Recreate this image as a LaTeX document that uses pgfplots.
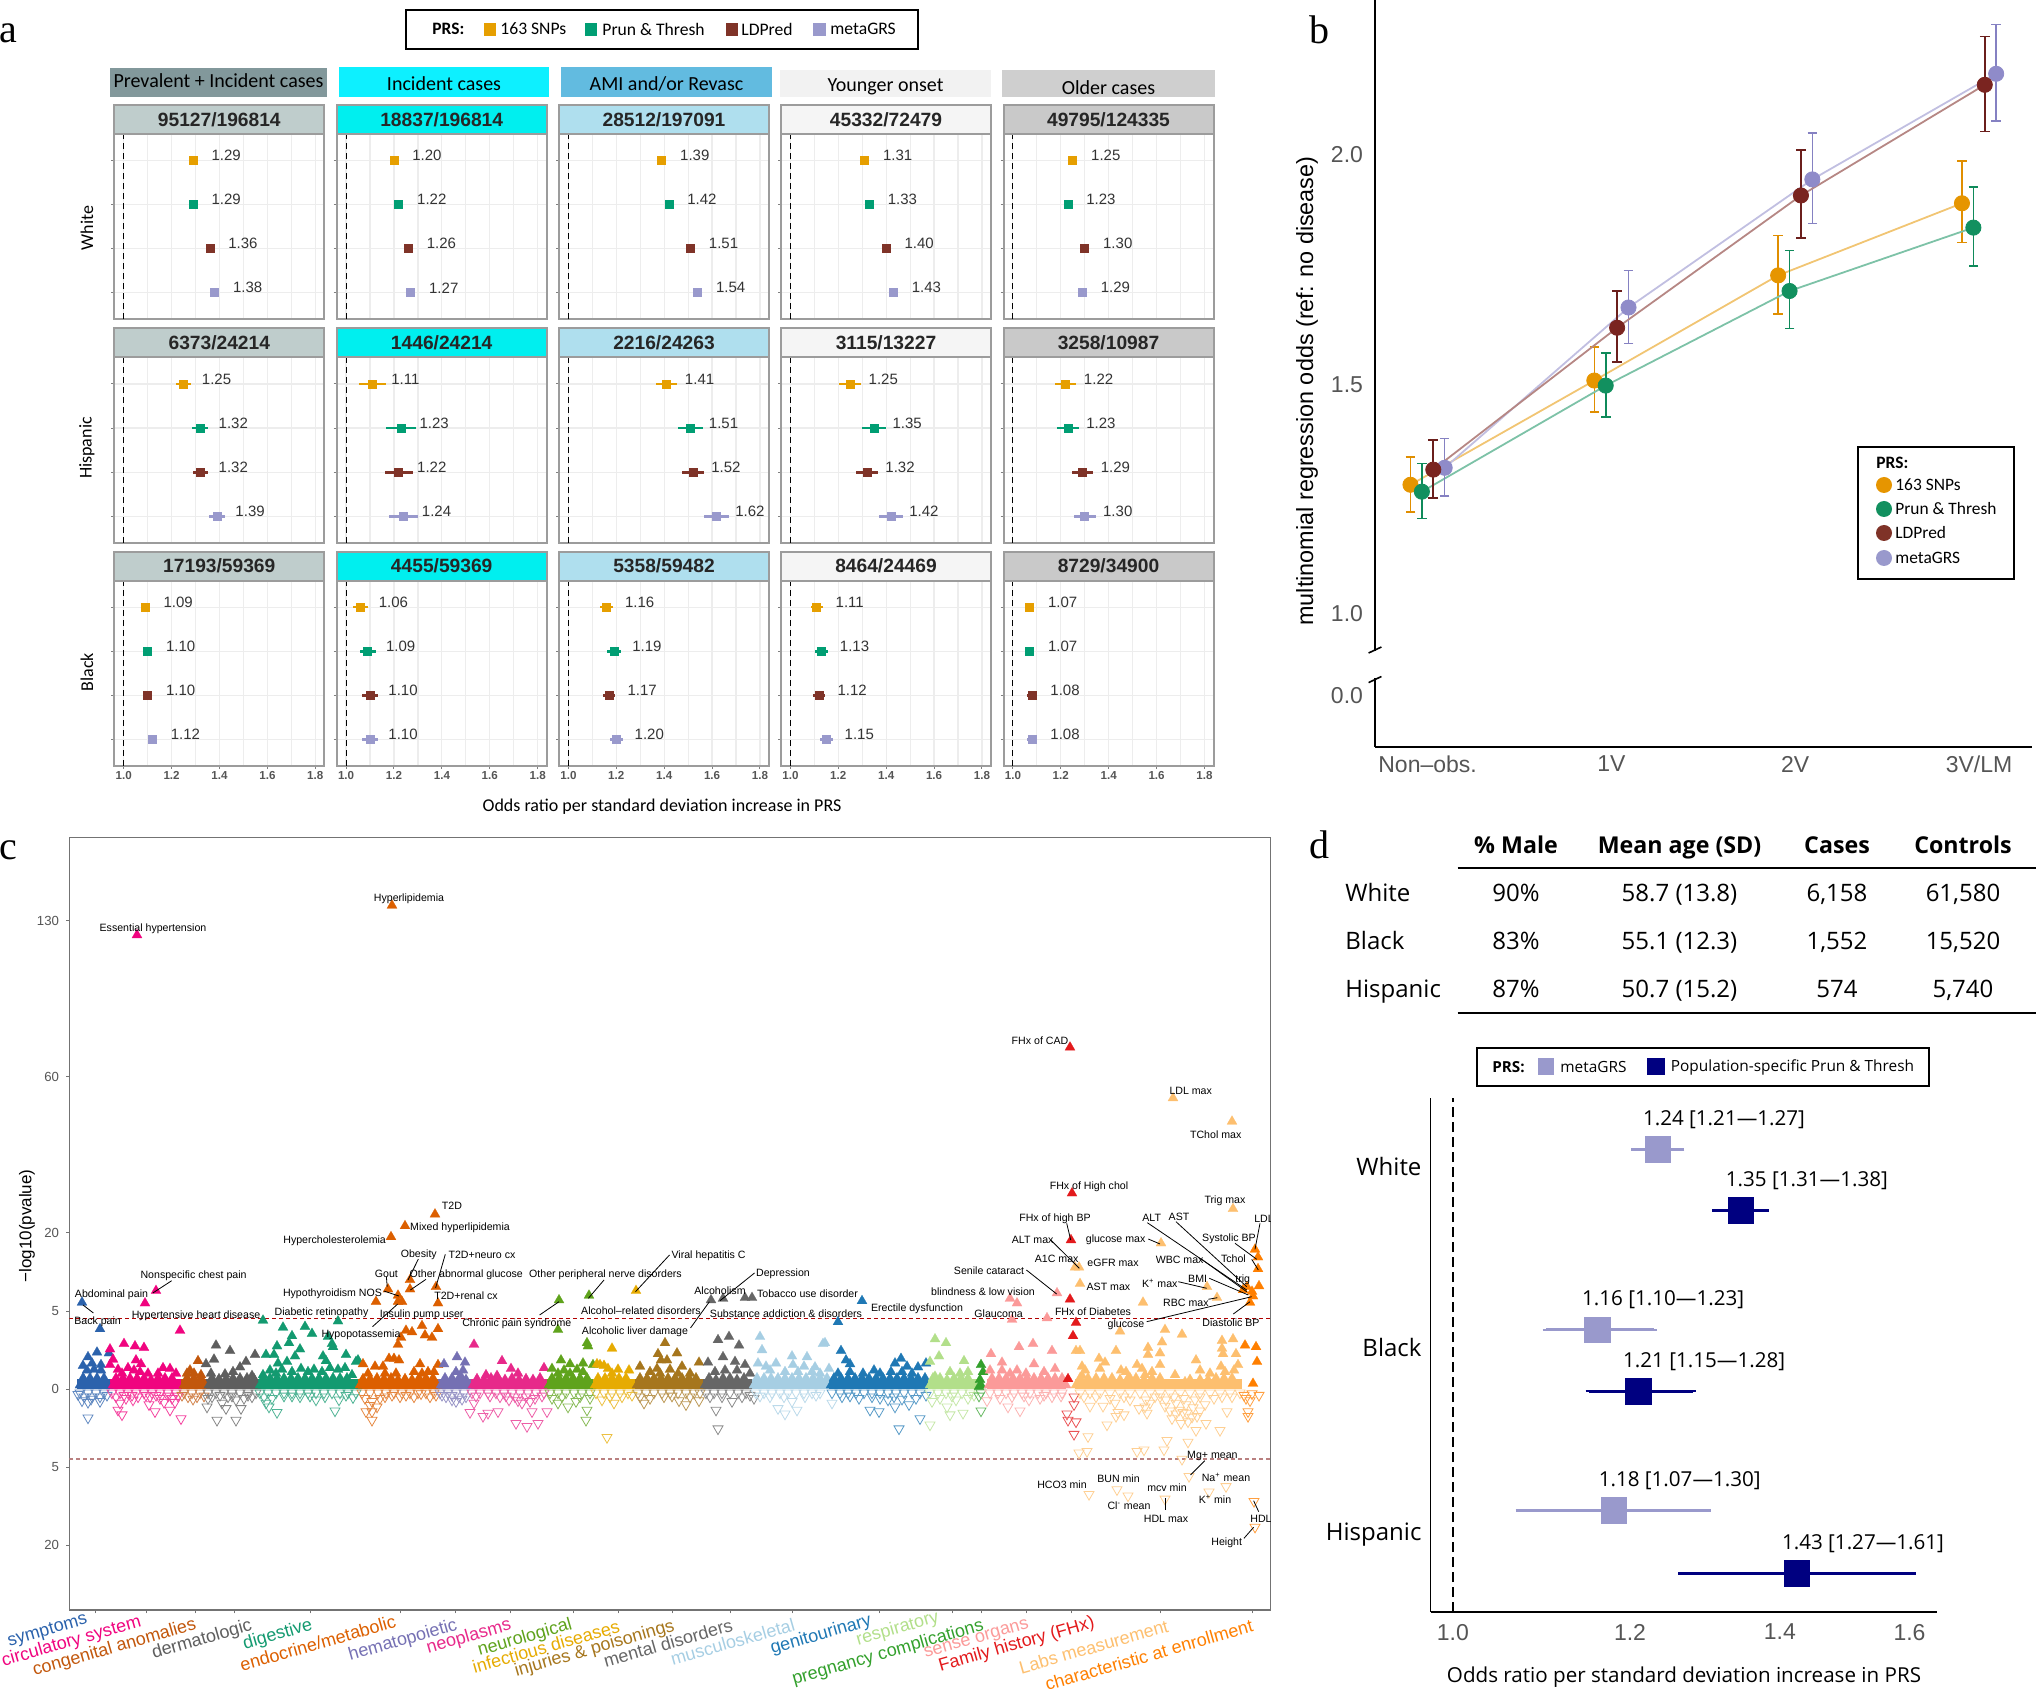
\documentclass[border=0pt]{standalone}
\usepackage{fontspec}
\setmainfont{Liberation Sans}
\newfontfamily\carl{Carlito}
\newfontfamily\opens{Open Sans}
\newfontfamily\seri{Liberation Serif}
\usepackage{xcolor}
\usepackage{pgfplots}
\pgfplotsset{compat=1.18}
\newcommand\fs[1]{\fontsize{#1pt}{#1pt}\selectfont}
\definecolor{prs4}{HTML}{E69F00}
\definecolor{prs3}{HTML}{009E73}
\definecolor{prs2}{HTML}{7F3328}
\definecolor{prs1}{HTML}{9999CC}
\definecolor{navyd}{HTML}{000080}
\definecolor{txt}{HTML}{333333}
\definecolor{tick}{HTML}{555555}
\definecolor{panelg}{HTML}{9C9C9C}
\definecolor{gridg}{HTML}{EDEDED}
\definecolor{sA}{HTML}{BFCDCC}\definecolor{sB}{HTML}{00EFEF}\definecolor{sC}{HTML}{AFDFEE}\definecolor{sD}{HTML}{F5F5F5}\definecolor{sE}{HTML}{C9C9C9}
\definecolor{hA}{HTML}{82989B}\definecolor{hB}{HTML}{0DF0FF}\definecolor{hC}{HTML}{62BBE0}\definecolor{hD}{HTML}{F2F2F2}\definecolor{hE}{HTML}{CFCFCF}
\definecolor{c01}{HTML}{2B62AC}\definecolor{c02}{HTML}{F0047F}\definecolor{c03}{HTML}{C2570C}\definecolor{c04}{HTML}{5E5E5E}
\definecolor{c05}{HTML}{139A70}\definecolor{c06}{HTML}{DC5F00}\definecolor{c07}{HTML}{7570B3}\definecolor{c08}{HTML}{E7298A}
\definecolor{c09}{HTML}{5FA31C}\definecolor{c10}{HTML}{E6AB02}\definecolor{c11}{HTML}{A6761D}\definecolor{c12}{HTML}{666666}
\definecolor{c13}{HTML}{A6CEE3}\definecolor{c14}{HTML}{1F78B4}\definecolor{c15}{HTML}{B2DF8A}\definecolor{c16}{HTML}{33A02C}
\definecolor{c17}{HTML}{FB9A99}\definecolor{c18}{HTML}{E31A1C}\definecolor{c19}{HTML}{FDBF6F}\definecolor{c20}{HTML}{FF7F00}

% panel a: one forest row
\newcommand\pt[3]{\addplot[prs#1, only marks, mark=square*, mark size=2pt,
  point meta=explicit symbolic, nodes near coords,
  nodes near coords style={anchor=center, xshift=16.5pt, yshift=2.5pt, text=txt, font=\fs{7.5}},
  error bars/.cd, x dir=both, x explicit, error mark=none, error bar style={prs#1, line width=1.3pt}]
  coordinates {(#2,#1) +- (#3,0) [#2]};}
\newcommand\four[8]{\pt{4}{#1}{#2}\pt{3}{#3}{#4}\pt{2}{#5}{#6}\pt{1}{#7}{#8}}
\newcommand\orpanel[6]{%
  \begin{axis}[scale only axis, width=105pt, height=92.65pt,
    at={({#1*0.5pt},{-(#2+185.3)*0.5pt})}, anchor=south west,
    xmin=0.9608, xmax=1.8376, ymin=0.4, ymax=4.6,
    xtick={1,1.2,1.4,1.6,1.8}, minor xtick={1.1,1.3,1.5,1.7}, ytick={1,2,3,4}, yticklabels={},
    xtick pos=bottom, ytick pos=left, tick align=outside,
    major tick length=1.5pt, minor tick length=0pt,
    xmajorgrids, xminorgrids, ymajorgrids, grid style={gridg, line width=.6pt},
    minor grid style={gridg, line width=.6pt},
    axis line style={panelg, line width=1pt}, tick style={tick, line width=.5pt},
    xticklabel style={font=\bfseries\fs{5.8}, text=tick, inner sep=1pt}, #5]
    \addplot[black, line width=.55pt, dash pattern=on 3pt off 2pt] coordinates {(1,0.4) (1,4.6)};
    #6
  \end{axis}
  \begin{scope}[x=.5pt,y=-.5pt]
    \draw[panelg, fill=#3, line width=1pt] (#1,#2-29) rectangle ++(210,29);
    \node[font=\bfseries\fs{9.6}, text=black!85] at (#1+105,#2-14.5) {#4};
  \end{scope}}
\newcommand\rowtop{xticklabels={}, x tick style={draw=none}}
\newcommand\rowbot{xticklabels={1.0,1.2,1.4,1.6,1.8}}

% panel c marks
\newcommand\up[2]{\addplot[only marks, mark=triangle*, mark size=2.9pt, color=#1, mark options={fill=#1, draw=#1, line width=.1pt}] coordinates {#2};}
\newcommand\dn[2]{\addplot[only marks, mark=triangle, mark size=2.9pt, color=#1!75, mark options={rotate=180, draw=#1!75, line width=.4pt}] coordinates {#2};}
\newcommand\band[3]{\addplot[draw=none, fill=#1] coordinates {(#2,0) (#2,.13) (#3,.13) (#3,0)} --cycle;}

% panel b series: position, odds, CI up, CI down
\pgfplotstableread{
x y p m
-0.093 1.281 .061 .059
0.907 1.508 .073 .068
1.907 1.737 .087 .084
2.907 1.894 .092 .085
}\tabsnp
\pgfplotstableread{
x y p m
-0.031 1.266 .061 .058
0.969 1.497 .071 .068
1.969 1.703 .088 .082
2.969 1.841 .089 .083
}\tabprun
\pgfplotstableread{
x y p m
0.031 1.314 .064 .062
1.031 1.623 .080 .075
2.031 1.911 .099 .093
3.031 2.152 .105 .102
}\tabld
\pgfplotstableread{
x y p m
0.093 1.318 .064 .061
1.093 1.667 .081 .078
2.093 1.946 .101 .096
3.093 2.176 .107 .103
}\tabmeta
\newcommand\bser[3]{%
  \addplot[#2!55!white, line width=.9pt, forget plot] table[x=x,y=y] {#1};
  \addplot[only marks, mark=*, mark size=3.8pt, color=#3, mark options={fill=#2, draw=#2},
    error bars/.cd, y dir=both, y explicit,
    error bar style={#3, line width=.8pt}, error mark options={rotate=90, #3, mark size=2.4pt, line width=.8pt}]
    table[x=x,y=y,y error plus=p,y error minus=m] {#1};}
\definecolor{bO}{HTML}{E69500}\definecolor{bOd}{HTML}{E08E00}
\definecolor{bG}{HTML}{12905F}\definecolor{bGd}{HTML}{0F8A5A}
\definecolor{bR}{HTML}{7A2420}\definecolor{bRd}{HTML}{6B1F1C}
\definecolor{bP}{HTML}{8F8BC9}\definecolor{bPd}{HTML}{8581C2}

% panel d rows
\newcommand\drow[6]{\addplot[only marks, mark=square*, mark size=6.4pt, color=#1, mark options={fill=#1, draw=#1},
  point meta=explicit symbolic, nodes near coords,
  nodes near coords style={anchor=center, xshift=33pt, yshift=15pt, text=black, font=\opens\fs{10.3}},
  error bars/.cd, x dir=both, x explicit, error bar style={#1, line width=1.5pt},
  error mark options={#1, line width=1.2pt, mark size=1.5pt}]
  coordinates {(#2,#3) += (#4,0) -= (#5,0) [{#6}]};}

\begin{document}
\begin{tikzpicture}
\useasboundingbox (0,0) rectangle (1018pt,-844.5pt);

% ---------- a ----------
\orpanel{114.3}{134}{sA}{95127/196814}{\rowtop}{\four{1.29}{.005}{1.29}{.005}{1.36}{.006}{1.38}{.006}}
\orpanel{336.7}{134}{sB}{18837/196814}{\rowtop}{\four{1.20}{.01}{1.22}{.01}{1.26}{.012}{1.27}{.012}}
\orpanel{559}{134}{sC}{28512/197091}{\rowtop}{\four{1.39}{.01}{1.42}{.01}{1.51}{.01}{1.54}{.01}}
\orpanel{781}{134}{sD}{45332/72479}{\rowtop}{\four{1.31}{.01}{1.33}{.01}{1.40}{.01}{1.43}{.01}}
\orpanel{1003.5}{134}{sE}{49795/124335}{\rowtop}{\four{1.25}{.01}{1.23}{.01}{1.30}{.01}{1.29}{.01}}
\orpanel{114.3}{357.5}{sA}{6373/24214}{\rowtop}{\four{1.25}{.03}{1.32}{.033}{1.32}{.03}{1.39}{.034}}
\orpanel{336.7}{357.5}{sB}{1446/24214}{\rowtop}{\four{1.11}{.057}{1.23}{.063}{1.22}{.058}{1.24}{.06}}
\orpanel{559}{357.5}{sC}{2216/24263}{\rowtop}{\four{1.41}{.045}{1.51}{.052}{1.52}{.047}{1.62}{.052}}
\orpanel{781}{357.5}{sD}{3115/13227}{\rowtop}{\four{1.25}{.045}{1.35}{.05}{1.32}{.045}{1.42}{.05}}
\orpanel{1003.5}{357.5}{sE}{3258/10987}{\rowtop}{\four{1.22}{.043}{1.23}{.046}{1.29}{.043}{1.30}{.046}}
\orpanel{114.3}{580.7}{sA}{17193/59369}{\rowbot}{\four{1.09}{.015}{1.10}{.016}{1.10}{.015}{1.12}{.017}}
\orpanel{336.7}{580.7}{sB}{4455/59369}{\rowbot}{\four{1.06}{.03}{1.09}{.033}{1.10}{.032}{1.10}{.033}}
\orpanel{559}{580.7}{sC}{5358/59482}{\rowbot}{\four{1.16}{.028}{1.19}{.028}{1.17}{.026}{1.20}{.028}}
\orpanel{781}{580.7}{sD}{8464/24469}{\rowbot}{\four{1.11}{.025}{1.13}{.027}{1.12}{.025}{1.15}{.027}}
\orpanel{1003.5}{580.7}{sE}{8729/34900}{\rowbot}{\four{1.07}{.02}{1.07}{.02}{1.08}{.02}{1.08}{.02}}

% ---------- c ----------
\begin{axis}[scale only axis, width=600.55pt, height=386.25pt,
  at={(34.7pt,-805pt)}, anchor=south west,
  xmin=69.4, xmax=1270.5, ymin=-2.833, ymax=7.07,
  xtick={95.1,146.5,195.3,234,310.6,400.7,455.8,510.1,573.7,618.3,672.8,730.5,792.8,879.9,952.7,981.8,1026.8,1071.4,1160.2,1252.4},
  xticklabels={}, ytick={-2,-1,0,1,2,4,6}, yticklabels={20,5,0,5,20,60,130},
  tick align=outside, xtick pos=bottom, ytick pos=left, major tick length=1.7pt,
  axis line style={black!55, line width=.7pt}, tick style={black!55, line width=.5pt},
  yticklabel style={font=\fs{6.6}, text=tick}]
\addplot[red!70!black, line width=.6pt, dash pattern=on 2pt off 1.5pt] coordinates {(69.4,.906) (1270.5,.906)};
\addplot[red!45!black!50!white, line width=.7pt, dash pattern=on 2pt off 1.5pt] coordinates {(69.4,-.897) (1270.5,-.897)};
% open triangles, negative direction
\dn{c01}{(80,-.05)(88,-.05)(96,-.05)(104,-.05)(84,-.1)(92,-.1)(100,-.1)(82,-.15)(88,-.17)(100,-.16)(88,-.37)(91,-.13)(78,-.07)(107,-.08)}
\dn{c02}{(112,-.05)(120,-.05)(128,-.05)(136,-.05)(144,-.05)(152,-.05)(160,-.05)(168,-.05)(176,-.05)(116,-.1)(126,-.12)(138,-.1)(150,-.1)(160,-.12)(172,-.12)(118,-.27)(122,-.33)(120,-.18)(155,-.29)(149,-.2)(170,-.27)(181,-.38)(133,-.14)(164,-.17)(175,-.17)(124,-.08)(132,-.08)(146,-.08)(156,-.08)(168,-.09)(178,-.09)}
\dn{c03}{(184,-.05)(192,-.05)(200,-.05)(188,-.1)(197,-.1)(204,-.09)(182,-.08)(193,-.13)}
\dn{c04}{(208,-.05)(216,-.05)(224,-.05)(232,-.05)(240,-.05)(248,-.05)(256,-.05)(212,-.1)(228,-.1)(244,-.12)(252,-.1)(207,-.23)(217,-.4)(236,-.4)(222,-.18)(226,-.25)(241,-.25)(208,-.12)(236,-.14)(220,-.08)(232,-.09)(248,-.08)}
\dn{c05}{(260,-.05)(268,-.05)(276,-.05)(284,-.05)(292,-.05)(300,-.05)(308,-.05)(316,-.05)(324,-.05)(332,-.05)(340,-.05)(348,-.05)(356,-.05)(266,-.18)(269,-.23)(277,-.3)(335,-.28)(316,-.14)(339,-.14)(292,-.09)(353,-.11)(272,-.12)(300,-.1)(325,-.1)(264,-.1)(284,-.09)(310,-.09)(346,-.08)}
\dn{c06}{(362,-.05)(370,-.05)(378,-.05)(386,-.05)(394,-.05)(402,-.05)(410,-.05)(418,-.05)(426,-.05)(434,-.05)(372,-.4)(366,-.29)(372,-.29)(377,-.23)(372,-.16)(365,-.12)(380,-.12)(406,-.08)(421,-.06)(400,-.1)(414,-.1)(430,-.1)(385,-.1)(370,-.21)(392,-.08)(436,-.08)}
\dn{c07}{(440,-.05)(448,-.05)(456,-.05)(464,-.05)(452,-.14)(446,-.1)(459,-.1)(466,-.1)(452,-.08)(442,-.08)(462,-.13)(456,-.16)}
\dn{c08}{(472,-.05)(480,-.05)(488,-.05)(496,-.05)(504,-.05)(512,-.05)(520,-.05)(528,-.05)(536,-.05)(544,-.05)(470,-.3)(483,-.35)(488,-.31)(498,-.29)(516,-.44)(527,-.48)(538,-.44)(532,-.29)(547,-.29)(522,-.18)(509,-.14)(474,-.18)(500,-.1)(515,-.1)(535,-.12)(476,-.09)(490,-.09)(506,-.09)(526,-.1)(542,-.09)(518,-.15)(530,-.16)}
\dn{c09}{(550,-.05)(558,-.05)(566,-.05)(574,-.05)(582,-.05)(590,-.05)(586,-.4)(587,-.27)(558,-.18)(568,-.23)(576,-.16)(552,-.12)(590,-.12)(562,-.1)(580,-.1)}
\dn{c10}{(596,-.05)(604,-.05)(612,-.05)(620,-.05)(628,-.05)(607,-.62)(614,-.18)(602,-.14)(622,-.1)(610,-.1)(632,-.08)}
\dn{c11}{(638,-.05)(646,-.05)(654,-.05)(662,-.05)(670,-.05)(678,-.05)(686,-.05)(694,-.05)(700,-.05)(686,-.2)(699,-.15)(679,-.15)(644,-.18)(650,-.12)(664,-.1)(690,-.1)(640,-.1)(672,-.09)}
\dn{c12}{(706,-.05)(714,-.05)(722,-.05)(730,-.05)(738,-.05)(746,-.05)(716,-.27)(718,-.51)(732,-.16)(754,-.12)(710,-.1)(722,-.1)(742,-.1)(750,-.08)}
\dn{c13}{(756,-.05)(764,-.05)(772,-.05)(780,-.05)(788,-.05)(796,-.05)(804,-.05)(812,-.05)(820,-.05)(785,-.32)(778,-.25)(797,-.27)(792,-.16)(832,-.18)(770,-.1)(805,-.1)(760,-.09)(784,-.1)(816,-.08)}
\dn{c14}{(832,-.05)(840,-.05)(848,-.05)(856,-.05)(864,-.05)(872,-.05)(880,-.05)(888,-.05)(896,-.05)(904,-.05)(912,-.05)(920,-.05)(870,-.27)(879,-.29)(920,-.38)(899,-.51)(895,-.23)(909,-.2)(859,-.12)(842,-.1)(888,-.14)(902,-.13)(916,-.12)(850,-.09)(872,-.1)(880,-.12)(894,-.1)(926,-.08)}
\dn{c15}{(930,-.05)(938,-.05)(946,-.05)(954,-.05)(962,-.05)(970,-.05)(930,-.46)(950,-.33)(963,-.31)(947,-.23)(932,-.16)(956,-.14)(968,-.12)(940,-.12)(952,-.09)(974,-.08)}
\dn{c16}{(981,-.28)(981,-.05)(979,-.09)}
\dn{c17}{(990,-.05)(998,-.05)(1006,-.05)(1014,-.05)(1022,-.05)(1030,-.05)(1038,-.05)(1046,-.05)(1054,-.05)(1062,-.05)(1020,-.28)(1008,-.23)(987,-.15)(1029,-.14)(1061,-.09)(1044,-.08)(1000,-.12)(1040,-.12)(1012,-.1)(1024,-.09)(1052,-.1)}
\dn{c18}{(1074,-.1)(1074,-.2)(1067,-.32)(1068,-.4)(1076,-.42)(1074,-.58)}
\dn{c19}{(1080,-.05)(1090,-.05)(1100,-.05)(1110,-.05)(1120,-.05)(1130,-.05)(1140,-.05)(1150,-.05)(1160,-.05)(1170,-.05)(1180,-.05)(1190,-.05)(1200,-.05)(1210,-.05)(1220,-.05)(1230,-.05)(1240,-.05)(1088,-.61)(1079,-.82)(1087,-.8)(1137,-.8)(1144,-.78)(1164,-.78)(1167,-.66)(1188,-.68)(1182,-.9)(1189,-1.12)(1089,-1.35)(1117,-1.29)(1128,-1.37)(1165,-1.41)(1209,-1.32)(1226,-1.25)(1220,-.53)(1107,-.46)(1116,-.35)(1124,-.33)(1090,-.22)(1103,-.22)(1139,-.25)(1147,-.31)(1172,-.38)(1181,-.44)(1196,-.53)(1206,-.44)(1187,-.31)(1197,-.35)(1227,-.29)(1179,-.27)(1166,-.14)(1176,-.18)(1186,-.2)(1115,-.18)(1130,-.14)(1155,-.1)(1195,-.14)(1205,-.2)(1214,-.12)(1188,-.42)(1170,-.28)(1193,-.24)(1145,-.23)(1118,-.3)(1084,-.1)(1096,-.1)(1110,-.12)(1124,-.1)(1146,-.14)(1160,-.1)(1174,-.1)(1184,-.12)(1200,-.1)(1222,-.1)(1232,-.1)(1192,-.36)(1183,-.3)(1176,-.32)(1200,-.28)(1165,-.22)(1150,-.18)}
\dn{c20}{(1254,-1.44)(1255,-1.77)(1248,-.29)(1248,-.35)(1259,-.08)(1250,-.15)(1244,-.08)(1252,-.06)(1246,-.12)}
% solid base of each group
\band{c01}{77}{110}\band{c02}{110}{181}\band{c03}{181}{206}\band{c04}{206}{258}\band{c05}{258}{358}
\band{c06}{358}{438}\band{c07}{438}{471}\band{c08}{471}{547}\band{c09}{547}{593}\band{c10}{593}{635}
\band{c11}{635}{703}\band{c12}{703}{752}\band{c13}{752}{829}\band{c14}{829}{928}\band{c15}{928}{977}
\band{c17}{987}{1066}\band{c19}{1075}{1242}
% filled triangles, positive direction
\up{c01}{(80,.05)(87,.05)(94,.05)(101,.05)(108,.05)(83,.14)(90,.14)(97,.14)(104,.14)(87,.24)(94,.25)(101,.24)(82,1.11)(100,.77)(88,.41)(97,.47)(109,.46)(83,.3)(101,.31)(92,.33)(84,.12)}
\up{c02}{(113,.05)(120,.05)(127,.05)(134,.05)(141,.05)(148,.05)(155,.05)(162,.05)(169,.05)(176,.05)(116,.14)(123,.14)(130,.14)(137,.14)(144,.14)(151,.12)(158,.14)(165,.14)(172,.14)(118,.25)(128,.27)(134,.24)(140,.22)(163,.27)(170,.26)(156,1.26)(145,1.1)(180,.75)(124,.58)(135,.55)(144,.53)(110,.51)(136,.37)(141,.32)(110,.31)(137,5.82)(113,.38)(148,.2)(122,.2)(158,.2)(176,.2)}
\up{c03}{(184,.05)(191,.05)(198,.05)(205,.05)(187,.14)(194,.14)(201,.14)(190,.24)(198,.36)(187,.2)(194,.2)(201,.18)}
\up{c04}{(209,.05)(216,.05)(223,.05)(230,.05)(237,.05)(244,.05)(251,.05)(256,.05)(212,.14)(219,.13)(226,.13)(233,.14)(240,.14)(247,.14)(254,.13)(216,.56)(230,.49)(214,.38)(206,.32)(255,.44)(246,.35)(240,.28)(233,.22)(225,.19)(211,.2)(252,.17)}
\up{c05}{(260,.05)(267,.05)(274,.05)(281,.05)(288,.05)(295,.05)(302,.05)(309,.05)(316,.05)(323,.05)(330,.05)(337,.05)(344,.05)(351,.05)(357,.05)(263,.14)(270,.14)(277,.14)(284,.14)(291,.14)(298,.14)(305,.14)(312,.14)(319,.14)(326,.14)(333,.14)(340,.14)(347,.14)(263,.88)(338,.87)(283,.79)(305,.8)(312,.71)(292,.68)(289,.59)(328,.67)(333,.54)(332,.58)(277,.55)(300,.51)(266,.44)(274,.44)(295,.42)(323,.42)(346,.44)(358,.37)(356,.35)(287,.35)(326,.36)(278,.33)(270,.24)(282,.25)(301,.26)(314,.25)(330,.27)(338,.25)(345,.27)(292,.22)(308,.22)(322,.22)(352,.18)(276,.2)(263,.18)}
\up{c06}{(360,.05)(367,.05)(374,.05)(381,.05)(388,.05)(395,.05)(402,.05)(409,.05)(416,.05)(423,.05)(430,.05)(437,.05)(363,.13)(370,.13)(377,.14)(384,.13)(391,.14)(398,.12)(405,.13)(412,.12)(419,.14)(426,.14)(433,.14)(435,2.24)(405,2.09)(391,1.95)(392,6.2)(388,1.28)(410,1.4)(410,1.28)(436,1.31)(438,1.1)(376,1.12)(398,1.2)(402,1.12)(398,1.12)(406,.75)(412,.73)(422,.81)(425,.69)(432,.66)(438,.77)(401,.66)(398,.57)(389,.39)(399,.37)(394,.39)(363,.32)(375,.29)(383,.29)(420,.32)(414,.22)(438,.31)(368,.2)(396,.2)(428,.22)(385,.2)(422,.2)(434,.22)}
\up{c07}{(441,.05)(448,.05)(455,.05)(462,.05)(469,.05)(445,.14)(452,.14)(459,.14)(466,.12)(444,.32)(457,.41)(465,.34)(463,.24)(461,.16)(456,.22)}
\up{c08}{(473,.05)(480,.05)(487,.05)(494,.05)(501,.05)(508,.05)(515,.05)(522,.05)(529,.05)(536,.05)(543,.05)(477,.13)(484,.12)(491,.14)(498,.14)(505,.12)(512,.14)(519,.12)(526,.13)(533,.12)(540,.12)(474,.57)(502,.36)(511,.26)(544,.27)(486,.18)(497,.17)(518,.2)(540,.14)}
\up{c09}{(549,.05)(556,.05)(563,.05)(570,.05)(577,.05)(584,.05)(591,.05)(552,.14)(559,.14)(566,.14)(573,.14)(580,.14)(587,.14)(559,1.14)(558,.76)(589,1.2)(587,.59)(588,.55)(561,.37)(570,.32)(583,.33)(593,.31)(552,.26)(564,.24)(583,.22)(577,.25)(558,.2)(570,.2)}
\up{c10}{(595,.05)(602,.05)(609,.05)(616,.05)(623,.05)(630,.05)(598,.14)(605,.14)(612,.14)(619,.14)(626,.14)(636,1.26)(612,.52)(600,.31)(608,.26)(618,.25)(629,.24)(604,.3)(597,.32)(612,.2)}
\up{c11}{(637,.05)(644,.05)(651,.05)(658,.05)(665,.05)(672,.05)(679,.05)(686,.05)(693,.05)(700,.05)(640,.14)(647,.14)(654,.14)(661,.14)(668,.14)(675,.14)(682,.14)(689,.14)(696,.14)(665,.59)(658,.45)(677,.46)(667,.37)(661,.37)(657,.26)(682,.29)(699,.34)(640,.29)(650,.22)(670,.25)(690,.2)(660,.2)(678,.2)}
\up{c12}{(705,.05)(712,.05)(719,.05)(726,.05)(733,.05)(740,.05)(747,.05)(709,.14)(716,.12)(723,.14)(730,.14)(737,.12)(744,.14)(711,1.14)(723,1.16)(745,1.17)(752,1.17)(718,.63)(729,.67)(739,.56)(723,.41)(708,.34)(735,.35)(745,.31)(715,.22)(725,.24)(737,.24)(750,.2)}
\up{c13}{(754,.05)(761,.05)(768,.05)(775,.05)(782,.05)(789,.05)(796,.05)(803,.05)(810,.05)(817,.05)(824,.05)(757,.14)(764,.14)(771,.14)(778,.14)(785,.14)(792,.14)(799,.14)(806,.14)(813,.14)(820,.14)(827,.14)(760,.67)(762,.5)(825,.59)(823,.58)(792,.42)(807,.41)(758,.33)(776,.33)(815,.28)(829,.26)(793,.31)(766,.29)(804,.29)(785,.22)(770,.24)(812,.22)(798,.22)(820,.2)}
\up{c14}{(831,.05)(838,.05)(845,.05)(852,.05)(859,.05)(866,.05)(873,.05)(880,.05)(887,.05)(894,.05)(901,.05)(908,.05)(915,.05)(922,.05)(834,.14)(841,.14)(848,.14)(855,.14)(862,.14)(869,.14)(876,.14)(883,.14)(890,.14)(897,.14)(904,.14)(911,.14)(918,.14)(925,.14)(838,.86)(862,1.13)(841,.49)(846,.37)(850,.32)(901,.39)(895,.33)(907,.29)(918,.28)(926,.33)(874,.24)(891,.22)(850,.22)(863,.2)(838,.2)(880,.2)(902,.22)(912,.2)}
\up{c15}{(930,.05)(937,.05)(944,.05)(951,.05)(958,.05)(965,.05)(972,.05)(933,.14)(940,.14)(947,.12)(954,.14)(961,.14)(968,.14)(935,.64)(946,.59)(939,.42)(964,.36)(930,.35)(960,.2)(935,.16)(950,.22)(968,.22)}
\up{c16}{(981,.31)(983,.22)(981,.05)(979,.03)(980,.12)}
\up{c17}{(989,.05)(996,.05)(1003,.05)(1010,.05)(1017,.05)(1024,.05)(1031,.05)(1038,.05)(1045,.05)(1052,.05)(1059,.05)(1066,.05)(992,.14)(999,.14)(1006,.14)(1013,.14)(1020,.14)(1027,.14)(1034,.14)(1041,.14)(1048,.14)(1055,.14)(1062,.14)(1010,1.16)(1017,1.1)(1057,1.23)(1047,.91)(1012,.89)(991,.45)(1019,.54)(1033,.58)(1052,.49)(1002,.34)(1034,.32)(1055,.26)(1017,.24)(990,.24)(1002,.24)(1044,.22)(1026,.2)(1010,.2)}
\up{c18}{(1070,4.38)(1072,2.51)(1071,1.91)(1070,1.15)(1076,.85)(1073,.68)(1068,.13)}
\up{c19}{(1076,.05)(1084,.05)(1092,.05)(1100,.05)(1108,.05)(1116,.05)(1124,.05)(1132,.05)(1140,.05)(1148,.05)(1156,.05)(1164,.05)(1172,.05)(1180,.05)(1188,.05)(1196,.05)(1204,.05)(1212,.05)(1220,.05)(1228,.05)(1236,.05)(1080,.14)(1088,.14)(1096,.14)(1104,.14)(1112,.14)(1120,.12)(1128,.14)(1136,.14)(1144,.12)(1152,.14)(1160,.14)(1190,.12)(1200,.12)(1208,.12)(1216,.14)(1224,.14)(1232,.14)(1173,3.73)(1232,3.43)(1233,2.31)(1161,1.87)(1079,1.56)(1075,1.56)(1080,1.35)(1143,1.11)(1207,1.31)(1217,1.17)(1165,.76)(1182,.7)(1120,.74)(1162,.6)(1116,.49)(1080,.49)(1076,.49)(1148,.53)(1222,.62)(1233,.64)(1222,.52)(1223,.45)(1236,.45)(1160,.46)(1148,.44)(1196,.37)(1099,.39)(1105,.34)(1082,.29)(1137,.31)(1121,.24)(1160,.31)(1221,.29)(1238,.31)(1200,.24)(1175,.18)(1145,.18)(1082,.17)(1130,.14)(1085,.24)(1185,.09)(1126,.22)(1225,.22)(1234,.24)(1142,.26)(1100,.26)(1152,.22)(1210,.2)}
\up{c20}{(1255,1.79)(1258,1.69)(1258,1.54)(1259,1.32)(1247,1.31)(1253,1.19)(1250,1.11)(1243,1.27)(1245,.56)(1256,.54)(1257,.35)(1253,.07)(1252,1.25)}
\end{axis}
\begin{scope}[x=.5pt,y=-.5pt]
\begin{scope}
\clip (69,838) rectangle (1270,1610);
\foreach \x/\y/\t in {153/927/Essential hypertension,409/897/Hyperlipidemia,452/1204/T2D,460/1226/Mixed hyperlipidemia,334.6/1239/Hypercholesterolemia,
 418.8/1253/Obesity,482/1253/T2D+neuro cx,386.4/1272/Gout,466.3/1273/Other abnormal glucose,605.5/1273/Other peripheral nerve disorders,193.6/1274/Nonspecific chest pain,
 111.5/1293/Abdominal pain,332.5/1292/Hypothyroidism NOS,466/1294/T2D+renal cx,97.6/1320/Back pain,196/1314/Hypertensive heart disease,321.5/1311/Diabetic retinopathy,
 421.7/1313/Insulin pump user,516.8/1322/Chronic pain syndrome,361/1333/Hypopotassemia,641/1309/Alcohol--related disorders,635/1330/Alcoholic liver damage,708.6/1254/Viral hepatitis C,
 783/1272/Depression,720/1289/Alcoholism,807.5/1292/Tobacco use disorder,786/1311.7/Substance addiction \& disorders,917/1307/Erectile dysfunction,998.6/1311.7/Glaucoma,
 983/1290/blindness \& low vision,989/1269/Senile cataract,1093/1310/FHx of Diabetes,1032.7/1238/ALT max,1056.7/1257/A1C max,1115.6/1238/glucose max,1113/1261.7/eGFR max,
 1108.4/1285/AST max,1159.8/1281.7/K\textsuperscript{+} max,1179.6/1258/WBC max,1197.6/1277.7/BMI,1185.9/1301/RBC max,1126/1323/glucose,1231/1320.7/Diastolic BP,1229/1236.7/Systolic BP,
 1233.4/1257/Tchol,1242.7/1277.7/trig,1040/1038.7/FHx of CAD,1190.7/1089/LDL max,1215.7/1132.7/TChol max,1089/1184.7/FHx of High chol,1225/1198.7/Trig max,1055/1217/FHx of high BP,
 1151.7/1216.7/ALT,1179/1215/AST,1264/1217/LDL,1261/1517.7/HDL,1226.7/1540.7/Height,1212.4/1454.7/Mg+ mean,1226/1476/Na\textsuperscript{+} mean,1062/1483/HCO3 min,1118.5/1477/BUN min,
 1167/1486/mcv min,1215/1498/K\textsuperscript{+} min,1129/1504/Cl\textsuperscript{-} mean,1166/1517/HDL max}
  \node[font=\fs{5.3}, inner sep=0pt, text=black, yshift=-.8pt] at (\x,\y) {\t};
\foreach \a/\b/\c/\d in {171.7/1280.7/152.8/1293,93.4/1313/83/1305,383.8/1291/399/1296,418.4/1259/408/1280,426/1279.3/410.4/1290,445.3/1254.3/435.6/1288,386.4/1276.7/387.2/1286.7,
 372.5/1326.7/397.7/1304,539.6/1315/559/1301.7,604/1280/588.4/1298.3,669.5/1255/635.5/1291.7,690.5/1328/709.4/1301.7,754.5/1273/720/1300.7,1026.4/1270/1056.7/1294,
 1066.7/1223.3/1070.7/1240,1050.7/1240/1079.3/1268.3,1148.3/1239/1160/1244,1147.3/1222.7/1246.7/1290,1176/1221.7/1246.7/1286.7,1201.7/1259.3/1246.7/1291.7,1209.3/1278.3/1248.3/1295,
 1178.3/1281.7/1206.7/1288.3,1208.3/1299.3/1217.3/1297.7,1146.7/1321.7/1251.7/1296.7,1233.3/1314/1250/1301.7,1235/1243.3/1256.7/1259.3,1251.7/1259.3/1258.3/1270,1260/1223.3/1255/1249.3,
 1204.8/1460.7/1190.5/1475,1165.3/1498.3/1165.3/1510,1253.6/1500.7/1258.7/1511.7,1244/1538.3/1253.6/1527.3}
  \draw[black, line width=.4pt] (\a,\b) -- (\c,\d);
\end{scope}
\foreach \x/\y/\c/\t in {47.6/1631/c01/symptoms,71.5/1642/c02/circulatory system,114.5/1648/c03/congenital anomalies,202/1640/c04/dermatologic,277.8/1635/c05/digestive,
 317.8/1643/c06/endocrine\slash metabolic,403/1640.7/c07/hematopoietic,469/1637/c08/neoplasms,525/1638/c09/neurological,546/1646.7/c10/infectious diseases,594.7/1649/c11/injuries \& poisonings,
 668/1643/c12/mental disorders,732.6/1641.7/c13/musculoskeletal,821/1635/c14/genitourinary,897.6/1629/c15/respiratory,888/1653/c16/pregnancy complications,976.7/1640/c17/sense organs,
 1016.7/1645/c18/Family history (FHx),1093.7/1646.7/c19/Labs measurement,1149/1655/c20/characteristic at enrollment}
  \node[font=\fs{9}, text=\c, rotate=16, inner sep=0pt] at (\x,\y) {\t};
\node[font=\fs{8.5}, rotate=90, inner sep=0pt] at (27,1226) {−log10(pvalue)};
\end{scope}

% ---------- b ----------
\begin{axis}[scale only axis, width=328.5pt, height=373.5pt,
  at={(687.5pt,-373.5pt)}, anchor=south west,
  xmin=-0.286, xmax=3.288, ymin=0.71, ymax=2.3367,
  axis x line*=bottom, axis y line*=left,
  axis line style={black, line width=.8pt, -},
  xtick={0,1,2,3}, xticklabels={Non–obs.,1V,2V,3V/LM},
  ytick={0.823,1,1.5,2}, yticklabels={0.0,1.0,1.5,2.0},
  major tick length=0pt, tick style={draw=none},
  tick label style={font=\fs{11.5}, text=tick},
  yticklabel style={xshift=-2.5pt}, xticklabel style={yshift=-1pt}]
\bser{\tabsnp}{bO}{bOd}
\bser{\tabprun}{bG}{bGd}
\bser{\tabmeta}{bP}{bPd}
\bser{\tabld}{bR}{bRd}
\end{axis}

% ---------- d ----------
\begin{axis}[scale only axis, width=253.1pt, height=257.25pt,
  at={(715.25pt,-806pt)}, anchor=south west,
  xmode=log, xmin=0.9772, xmax=1.6455, ymin=0.6066, ymax=3.457,
  axis x line*=bottom, axis y line*=left,
  axis line style={black, line width=.7pt, -},
  xtick={1,1.2,1.4,1.6}, xticklabels={1.0,1.2,1.4,1.6},
  ytick={1.04,2.06,3.06}, yticklabels={Hispanic,Black,White},
  minor xtick={}, major tick length=0pt, tick style={draw=none},
  xticklabel style={font=\fs{11.5}, text=tick, yshift=-2.5pt},
  yticklabel style={font=\opens\fs{12}, text=black, xshift=-1pt, text height=9pt, text depth=2.5pt}]
\addplot[black, line width=.6pt, dash pattern=on 5pt off 2.5pt] coordinates {(1,0.6066) (1,3.457)};
\drow{prs1}{1.235}{3.17}{.03}{.03}{1.24 [1.21—1.27]}
\drow{navyd}{1.345}{2.83}{.035}{.035}{1.35 [1.31—1.38]}
\drow{prs1}{1.16}{2.17}{.07}{.06}{1.16 [1.10—1.23]}
\drow{navyd}{1.21}{1.83}{.07}{.06}{1.21 [1.15—1.28]}
\drow{prs1}{1.18}{1.17}{.12}{.11}{1.18 [1.07—1.30]}
\drow{navyd}{1.425}{0.82}{.18}{.16}{1.43 [1.27—1.61]}
\end{axis}

\begin{scope}[x=.5pt,y=-.5pt]
% letters
\node[font=\seri\fs{20}, inner sep=0pt] at (8,33) {a};
\node[font=\seri\fs{20}, inner sep=0pt] at (1319,30) {b};
\node[font=\seri\fs{20}, inner sep=0pt] at (8,850) {c};
\node[font=\seri\fs{20}, inner sep=0pt] at (1319,845) {d};
% a: legend and column heads
\draw[black, line width=1pt, fill=white] (406,10) rectangle (918,49);
\node[font=\carl\bfseries\fs{8.7}, anchor=west, inner sep=0pt] at (432,29) {PRS:};
\fill[prs4] (484,23) rectangle (496,36); \node[font=\carl\fs{8.8}, anchor=west, inner sep=0pt] at (500,29) {163 SNPs};
\fill[prs3] (585,23) rectangle (597,36); \node[font=\carl\fs{8.8}, anchor=west, inner sep=0pt] at (602,29) {Prun \& Thresh};
\fill[prs2] (726,23) rectangle (738,36); \node[font=\carl\fs{8.8}, anchor=west, inner sep=0pt] at (741,29) {LDPred};
\fill[prs1] (813,23) rectangle (826,36); \node[font=\carl\fs{8.8}, anchor=west, inner sep=0pt] at (830,29) {metaGRS};
\foreach \l/\r/\t/\ty/\c/\s in {110/327/68/81/hA/Prevalent + Incident cases,339/549/67/84/hB/Incident cases,561/772/67/84/hC/AMI and\slash or Revasc,780/991/70/86.5/hD/Younger onset,1002/1215/70/88/hE/Older cases}{
  \fill[\c] (\l,\t) rectangle (\r,97);
  \node[font=\carl\fs{10}, inner sep=0pt] at ({(\l+\r)/2},\ty) {\s};}
\foreach \y/\s in {228/White,448/Hispanic,672/Black}
  \node[font=\carl\fs{9}, rotate=90, inner sep=0pt] at (87,\y) {\s};
\node[font=\carl\fs{9}, inner sep=0pt] at (662,807) {Odds ratio per standard deviation increase in PRS};
% b: axis break, label, legend
\fill[white] (1368,651) rectangle (1382,678);
\draw[black, line width=.8pt] (1368.6,653) -- (1381.4,647);
\draw[black, line width=.8pt] (1368.6,682.6) -- (1381.4,676.5);
\node[font=\fs{11.7}, rotate=90, inner sep=0pt] at (1307,391) {multinomial regression odds (ref: no disease)};
\draw[black, line width=1pt, fill=white] (1858,447.4) rectangle (2014,579);
\node[font=\carl\bfseries\fs{8.7}, anchor=west, inner sep=0pt] at (1876,463) {PRS:};
\foreach \y/\c/\s in {485/bO/163 SNPs,509/bG/Prun \& Thresh,533/prs2/LDPred,558/prs1/metaGRS}{
  \fill[\c] (1884,\y) circle (8);
  \node[font=\carl\fs{8.7}, anchor=west, inner sep=0pt] at (1895,\y) {\s};}
% d: table and legend
\foreach \x/\s in {1516/\% Male,1679.5/Mean age (SD),1837/Cases,1963/Controls}
  \node[font=\opens\bfseries\fs{11.6}, inner sep=0pt, text height=9pt, text depth=2.5pt] at (\x,847) {\s};
\draw[black, line width=1pt] (1457.6,868) -- (2036,868);
\draw[black, line width=1pt] (1457.6,1013.5) -- (2036,1013.5);
\end{scope}
\begin{scope}[x=.5pt,y=-.5pt, every node/.style={font=\opens\fs{12}, inner sep=0pt, text height=9pt, text depth=2.5pt}]
\node[anchor=west] at (1345,895) {White}; \node at (1516,895) {90\%}; \node at (1679.5,895) {58.7 (13.8)}; \node at (1837,895) {6,158}; \node at (1963,895) {61,580};
\node[anchor=west] at (1345,943) {Black}; \node at (1516,943) {83\%}; \node at (1679.5,943) {55.1 (12.3)}; \node at (1837,943) {1,552}; \node at (1963,943) {15,520};
\node[anchor=west] at (1345,991.4) {Hispanic}; \node at (1516,991.4) {87\%}; \node at (1679.5,991.4) {50.7 (15.2)}; \node at (1837,991.4) {574}; \node at (1963,991.4) {5,740};
\end{scope}
\begin{scope}[x=.5pt,y=-.5pt]
\draw[black, line width=1pt, fill=white] (1476.7,1047.7) rectangle (1929,1086);
\node[font=\opens\bfseries\fs{7.6}, anchor=west, inner sep=0pt] at (1492,1067) {PRS:};
\fill[prs1] (1537.6,1058) rectangle (1554,1075); \node[font=\opens\fs{7.7}, anchor=west, inner sep=0pt] at (1560,1067) {metaGRS};
\fill[navyd] (1647,1058) rectangle (1665,1075); \node[font=\opens\fs{7.7}, anchor=west, inner sep=0pt] at (1670.5,1067) {Population-specific Prun \& Thresh};
\node[font=\opens\fs{10.3}, inner sep=0pt] at (1684,1677) {Odds ratio per standard deviation increase in PRS};
\end{scope}
\end{tikzpicture}
\end{document}
